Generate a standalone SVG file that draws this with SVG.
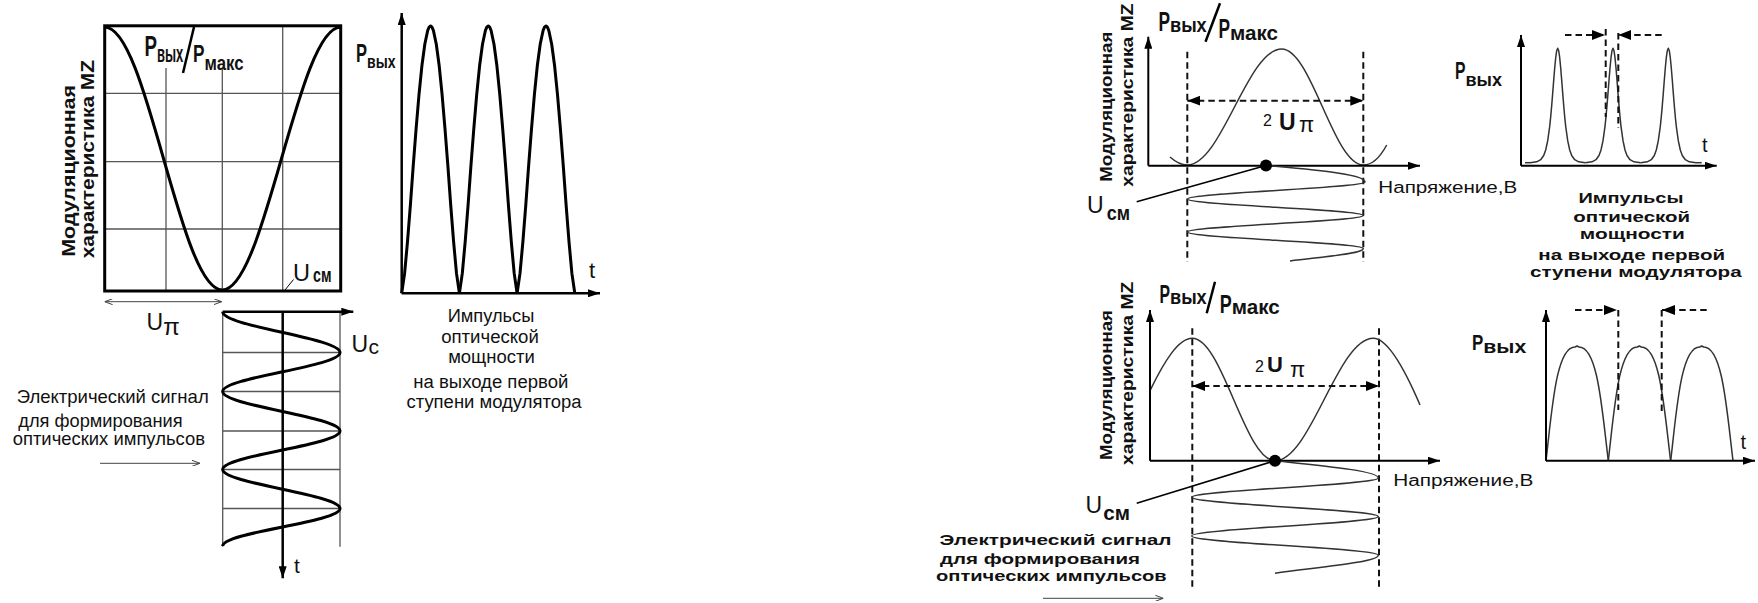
<svg xmlns="http://www.w3.org/2000/svg" width="1758" height="603" viewBox="0 0 1758 603">
<style>
text{font-family:"Liberation Sans",Arial,sans-serif;fill:#111}
.b{font-weight:bold}
.mid{text-anchor:middle}
.ln{fill:none;stroke:#000}
.grid{fill:none;stroke:#555;stroke-width:1.3}
.thin{fill:none;stroke:#333;stroke-width:1.5}
.dash{fill:none;stroke:#111;stroke-width:2;stroke-dasharray:6.5 4}
</style>
<defs>
<marker id="ah" viewBox="0 0 12 8" refX="12" refY="4" markerWidth="12" markerHeight="8" markerUnits="userSpaceOnUse" orient="auto-start-reverse"><path d="M0,0L12,4L0,8z" fill="#000"/></marker>
<marker id="ahd" viewBox="0 0 13 10" refX="13" refY="5" markerWidth="13" markerHeight="10" markerUnits="userSpaceOnUse" orient="auto-start-reverse"><path d="M0,0L13,5L0,10z" fill="#000"/></marker>
<marker id="ao" viewBox="0 0 8 6" refX="8" refY="3" markerWidth="8" markerHeight="6" markerUnits="userSpaceOnUse" orient="auto-start-reverse"><path d="M0,0L8,3L0,6" fill="none" stroke="#444" stroke-width="1"/></marker>
<path id="arch" d="M0,293.3 L2.9,273.4 5.8,241.7 8.7,204.8 11.5,166.1 14.4,128.9 17.3,94.7 20.2,65.8 23.1,44.2 26,30.5 27.4,27.2 28.9,26 30.3,27.2 31.7,30.5 34.6,44.2 37.5,65.8 40.4,94.7 43.3,128.9 46.2,166.1 49,204.8 51.9,241.7 54.8,273.4 57.7,293.3"/>
<path id="spike" d="M-27.7,162.7 L-21,161.8 -17,159.7 -14,155.5 -12,150 -10,140.7 -8,126.4 -7,116.7 -6,105.5 -5,93.1 -4,80.2 -3,68 -2,57.7 -1,50.7 0,48.3 1,50.7 2,57.7 3,68 4,80.2 5,93.1 6,105.5 7,116.7 8,126.4 10,140.7 12,150 14,155.5 17,159.7 21,161.8 27.7,162.7"/>
<path id="dome" d="M0,460.7 C6,410 10,347 29,347 L31,346 L33,347 C52,347 56,410 62.3,460.7"/>
</defs>

<!-- Panel A: modulation characteristic -->
<g id="panelA-mz">
<line class="grid" x1="104.7" y1="93.3" x2="340.7" y2="93.3"/>
<line class="grid" x1="104.7" y1="161.7" x2="340.7" y2="161.7"/>
<line class="grid" x1="104.7" y1="229" x2="340.7" y2="229"/>
<line class="grid" x1="166" y1="68" x2="166" y2="291"/>
<line class="grid" x1="222.3" y1="68" x2="222.3" y2="291"/>
<line class="grid" x1="282.7" y1="26" x2="282.7" y2="291"/>
<rect x="104.7" y="25.8" width="236" height="265.2" fill="none" stroke="#000" stroke-width="3"/>
<path class="ln" stroke-width="3" d="M104.7,27 C147.7,27 179.3,290 222.3,290 C265.3,290 297.7,27 340.7,27"/>
<text transform="translate(75,256.7) rotate(-90)" class="b" font-size="17.5" textLength="171.7" lengthAdjust="spacingAndGlyphs">Модуляционная</text>
<text transform="translate(93.5,258.3) rotate(-90)" class="b" font-size="17.5" textLength="198.3" lengthAdjust="spacingAndGlyphs">характеристика MZ</text>
<text class="b" font-size="30"><tspan x="144.5" y="56" textLength="12.5" lengthAdjust="spacingAndGlyphs">P</tspan><tspan x="157" y="62" font-size="23" textLength="26.3" lengthAdjust="spacingAndGlyphs">вых</tspan></text>
<line class="ln" stroke-width="2.5" x1="194" y1="27" x2="183" y2="73"/>
<text class="b" font-size="24"><tspan x="193" y="62" textLength="11.5" lengthAdjust="spacingAndGlyphs">P</tspan><tspan x="204.5" y="70" font-size="20" textLength="39" lengthAdjust="spacingAndGlyphs">макс</tspan></text>
<line class="ln" stroke-width="1" x1="285" y1="290" x2="293.5" y2="279.5"/>
<text font-size="24"><tspan x="293" y="280.7" textLength="17" lengthAdjust="spacingAndGlyphs">U</tspan><tspan x="313" y="282" font-size="20" class="b" textLength="18.5" lengthAdjust="spacingAndGlyphs">см</tspan></text>
<line x1="104.7" y1="301.7" x2="221.7" y2="301.7" stroke="#444" stroke-width="1" marker-start="url(#ao)" marker-end="url(#ao)"/>
<text font-size="23"><tspan x="146.5" y="329.5">U</tspan><tspan x="163.2" y="335" font-size="24">π</tspan></text>
</g>

<!-- Panel A: electrical signal -->
<g id="panelA-signal">
<line class="grid" x1="222.7" y1="311.7" x2="222.7" y2="546.7"/>
<line class="grid" x1="340" y1="311.7" x2="340" y2="546.7"/>
<line class="grid" x1="222.7" y1="352.5" x2="340" y2="352.5"/>
<line class="grid" x1="222.7" y1="391.5" x2="340" y2="391.5"/>
<line class="grid" x1="222.7" y1="431" x2="340" y2="431"/>
<line class="grid" x1="222.7" y1="469.5" x2="340" y2="469.5"/>
<line class="grid" x1="222.7" y1="508.5" x2="340" y2="508.5"/>
<path class="ln" stroke-width="3" d="M222.7,311.7 C222.7,326.5 340,338 340,352.5 C340,366.7 222.7,377.3 222.7,391.5 C222.7,405.9 340,416.6 340,431 C340,445 222.7,455.5 222.7,469.5 C222.7,483.5 340,494.5 340,508.5 C340,522.3 222.7,532.2 222.7,546"/>
<line class="ln" stroke-width="2.5" x1="222.7" y1="311.7" x2="353.3" y2="311.7" marker-end="url(#ah)"/>
<line class="ln" stroke-width="2.5" x1="282.7" y1="311.7" x2="282.7" y2="578.3" marker-end="url(#ah)"/>
<text font-size="23"><tspan x="351.5" y="351.7">U</tspan><tspan x="368.5" y="354" font-size="21">c</tspan></text>
<text x="294" y="573.3" font-size="21">t</text>
<text x="16.7" y="403" font-size="18.5" textLength="192" lengthAdjust="spacingAndGlyphs">Электрический сигнал</text>
<text x="18.3" y="426.7" font-size="18.5" textLength="164.3" lengthAdjust="spacingAndGlyphs">для формирования</text>
<text x="12.7" y="444.5" font-size="18.5" textLength="192.3" lengthAdjust="spacingAndGlyphs">оптических импульсов</text>
<line x1="100" y1="463.3" x2="200" y2="463.3" stroke="#444" stroke-width="1" marker-end="url(#ao)"/>
</g>

<!-- Panel A: output pulses -->
<g id="panelA-pulses">
<g class="ln" stroke-width="3" stroke-linejoin="round">
<use href="#arch" x="401.7"/>
<use href="#arch" x="459.4"/>
<use href="#arch" x="517.1"/>
</g>
<line class="ln" stroke-width="2.5" x1="401.7" y1="293.3" x2="401.7" y2="13" marker-end="url(#ah)"/>
<line class="ln" stroke-width="2.5" x1="401.7" y1="293.3" x2="600" y2="293.3" marker-end="url(#ah)"/>
<text class="b" font-size="25"><tspan x="356" y="61.7" textLength="11" lengthAdjust="spacingAndGlyphs">P</tspan><tspan x="367" y="68.3" font-size="19" textLength="28.5" lengthAdjust="spacingAndGlyphs">вых</tspan></text>
<text x="589" y="278" font-size="22">t</text>
<text class="mid" x="491" y="321.7" font-size="18" textLength="86.7" lengthAdjust="spacingAndGlyphs">Импульсы</text>
<text class="mid" x="490" y="343.3" font-size="18" textLength="97.7" lengthAdjust="spacingAndGlyphs">оптической</text>
<text class="mid" x="491.5" y="363.3" font-size="18" textLength="86.7" lengthAdjust="spacingAndGlyphs">мощности</text>
<text class="mid" x="490.8" y="388.3" font-size="18" textLength="155" lengthAdjust="spacingAndGlyphs">на выходе первой</text>
<text class="mid" x="494" y="408.3" font-size="18" textLength="175" lengthAdjust="spacingAndGlyphs">ступени модулятора</text>
</g>

<!-- Panel B top: characteristic -->
<g id="panelB-top-mz">
<line class="dash" x1="1187.3" y1="51.7" x2="1187.3" y2="262"/>
<line class="dash" x1="1363.3" y1="51.7" x2="1363.3" y2="262"/>
<path class="thin" d="M1170,157 Q1179,165 1187.3,165 C1221.6,165 1247.4,49 1281.7,49 C1311.4,49 1333.6,165 1363.3,165 Q1376,165 1386.7,145"/>
<line class="ln" stroke-width="2" x1="1148.3" y1="165.7" x2="1148.3" y2="36.7" marker-end="url(#ah)"/>
<line class="ln" stroke-width="2" x1="1148.3" y1="165.7" x2="1420" y2="165.7" marker-end="url(#ah)"/>
<line class="dash" stroke-width="2.5" x1="1187.3" y1="100.7" x2="1363.3" y2="100.7" marker-start="url(#ahd)" marker-end="url(#ahd)"/>
<text font-size="16"><tspan x="1263" y="125.5">2</tspan><tspan x="1279" y="130" font-size="23" class="b">U</tspan><tspan x="1299" y="131.5" font-size="22">π</tspan></text>
<path class="thin" stroke="#111" d="M1266,165.5 C1315,170 1365,174 1365,182 C1365,188 1187.3,193 1187.3,199 C1187.3,205 1363.3,209.5 1363.3,215.5 C1363.3,221.5 1187.3,226 1187.3,232 C1187.3,238 1363.3,242.5 1363.3,248.5 C1363.3,254 1320,257 1290,261"/>
<line class="ln" stroke-width="1.5" x1="1136.7" y1="201.7" x2="1266" y2="165.5"/>
<circle cx="1266" cy="165.5" r="6" fill="#000"/>
<text transform="translate(1111.7,181.7) rotate(-90)" class="b" font-size="16" textLength="150" lengthAdjust="spacingAndGlyphs">Модуляционная</text>
<text transform="translate(1133.3,186.7) rotate(-90)" class="b" font-size="16" textLength="183.3" lengthAdjust="spacingAndGlyphs">характеристика MZ</text>
<text class="b" font-size="27"><tspan x="1158.5" y="30.7" textLength="11.5" lengthAdjust="spacingAndGlyphs">P</tspan><tspan x="1170" y="31.7" font-size="21" textLength="36.7" lengthAdjust="spacingAndGlyphs">вых</tspan></text>
<line class="ln" stroke-width="2.5" x1="1220" y1="3.3" x2="1205.5" y2="41.7"/>
<text class="b" font-size="27"><tspan x="1218.5" y="38.3" textLength="11.5" lengthAdjust="spacingAndGlyphs">P</tspan><tspan x="1230" y="40" font-size="20" textLength="48" lengthAdjust="spacingAndGlyphs">макс</tspan></text>
<text font-size="23"><tspan x="1087" y="213.3">U</tspan><tspan x="1106.7" y="220" font-size="20" class="b" textLength="23.3" lengthAdjust="spacingAndGlyphs">см</tspan></text>
<text x="1378.3" y="193" font-size="16" textLength="139" lengthAdjust="spacingAndGlyphs">Напряжение,В</text>
</g>

<!-- Panel B top: output pulses -->
<g id="panelB-top-pulses">
<g class="thin" stroke="#444" stroke-linejoin="round">
<line x1="1525" y1="162.7" x2="1530" y2="162.7"/>
<use href="#spike" x="1557.7"/>
<use href="#spike" x="1613"/>
<use href="#spike" x="1668.3"/>
<line x1="1696" y1="162.7" x2="1701.7" y2="162.7"/>
</g>
<line class="ln" stroke-width="2" x1="1521" y1="165.7" x2="1521" y2="35" marker-end="url(#ah)"/>
<line class="ln" stroke-width="2" x1="1521" y1="165.7" x2="1716.7" y2="165.7" marker-end="url(#ah)"/>
<line class="dash" x1="1565" y1="35" x2="1605" y2="35" marker-end="url(#ahd)"/>
<line class="dash" x1="1661.7" y1="35" x2="1618.3" y2="35" marker-end="url(#ahd)"/>
<line class="dash" x1="1605.7" y1="29" x2="1605.7" y2="117"/>
<line class="dash" x1="1618.3" y1="33" x2="1618.3" y2="128"/>
<text class="b" font-size="24"><tspan x="1455" y="79" textLength="10.5" lengthAdjust="spacingAndGlyphs">P</tspan><tspan x="1465.5" y="85.5" font-size="19" textLength="36.5" lengthAdjust="spacingAndGlyphs">вых</tspan></text>
<text x="1702" y="151.7" font-size="20">t</text>
<text class="mid b" x="1631" y="203.3" font-size="15.5" textLength="105" lengthAdjust="spacingAndGlyphs">Импульсы</text>
<text class="mid b" x="1631.7" y="221.7" font-size="15.5" textLength="116.7" lengthAdjust="spacingAndGlyphs">оптической</text>
<text class="mid b" x="1632.3" y="239.3" font-size="15.5" textLength="105" lengthAdjust="spacingAndGlyphs">мощности</text>
<text class="mid b" x="1631.7" y="260" font-size="15.5" textLength="186.7" lengthAdjust="spacingAndGlyphs">на выходе первой</text>
<text class="mid b" x="1635.8" y="276.7" font-size="15.5" textLength="211.7" lengthAdjust="spacingAndGlyphs">ступени модулятора</text>
</g>

<!-- Panel B bottom: characteristic -->
<g id="panelB-bottom-mz">
<line class="dash" x1="1192.3" y1="328.3" x2="1192.3" y2="590"/>
<line class="dash" x1="1379" y1="328.3" x2="1379" y2="590"/>
<path class="thin" d="M1150,390.6 C1164.1,361.8 1178.2,338.3 1192.3,338.3 C1222.3,338.3 1245,460.7 1275,460.7 C1310.7,460.7 1337.6,338.3 1373.3,338.3 C1388,338.3 1405,370 1420,405"/>
<line class="ln" stroke-width="2" x1="1150" y1="460.7" x2="1150" y2="310" marker-end="url(#ah)"/>
<line class="ln" stroke-width="2" x1="1150" y1="460.7" x2="1440" y2="460.7" marker-end="url(#ah)"/>
<line class="dash" stroke-width="2.5" x1="1192.3" y1="386" x2="1379" y2="386" marker-start="url(#ahd)" marker-end="url(#ahd)"/>
<text font-size="16"><tspan x="1255" y="371.7">2</tspan><tspan x="1267" y="371.7" font-size="22" class="b">U</tspan><tspan x="1290" y="376.7" font-size="22">π</tspan></text>
<path class="thin" stroke="#111" d="M1275,460.7 C1325,466 1378.3,471 1378.3,478 C1378.3,485 1191.7,490.3 1191.7,497.3 C1191.7,504.3 1378.3,509.6 1378.3,516.6 C1378.3,523.6 1191.7,528.9 1191.7,535.9 C1191.7,542.9 1378.3,548.2 1378.3,555.2 C1378.3,562 1320,567 1275,573.3"/>
<line class="ln" stroke-width="1.5" x1="1136.7" y1="503.3" x2="1275" y2="460.7"/>
<circle cx="1275" cy="460.7" r="6" fill="#000"/>
<text transform="translate(1111.7,460) rotate(-90)" class="b" font-size="16" textLength="150" lengthAdjust="spacingAndGlyphs">Модуляционная</text>
<text transform="translate(1133.3,465) rotate(-90)" class="b" font-size="16" textLength="183.3" lengthAdjust="spacingAndGlyphs">характеристика MZ</text>
<text class="b" font-size="25"><tspan x="1159.5" y="303.3" textLength="10.5" lengthAdjust="spacingAndGlyphs">P</tspan><tspan x="1170" y="304" font-size="21" textLength="36.7" lengthAdjust="spacingAndGlyphs">вых</tspan></text>
<line class="ln" stroke-width="2.5" x1="1215" y1="281.7" x2="1206.7" y2="313.3"/>
<text class="b" font-size="25"><tspan x="1219.7" y="313.3" textLength="12" lengthAdjust="spacingAndGlyphs">P</tspan><tspan x="1231.7" y="314" font-size="20" textLength="48" lengthAdjust="spacingAndGlyphs">макс</tspan></text>
<text font-size="23"><tspan x="1085.5" y="512.7">U</tspan><tspan x="1103.3" y="520" font-size="20" class="b" textLength="26.7" lengthAdjust="spacingAndGlyphs">см</tspan></text>
<text x="1393.3" y="486" font-size="16" textLength="140" lengthAdjust="spacingAndGlyphs">Напряжение,В</text>
<text x="939.6" y="545" class="b" font-size="15.5" textLength="232" lengthAdjust="spacingAndGlyphs">Электрический сигнал</text>
<text x="940" y="564" class="b" font-size="15.5" textLength="200" lengthAdjust="spacingAndGlyphs">для формирования</text>
<text x="936" y="580.7" class="b" font-size="15.5" textLength="230.7" lengthAdjust="spacingAndGlyphs">оптических импульсов</text>
<line x1="1043" y1="598.3" x2="1163.3" y2="598.3" stroke="#444" stroke-width="1" marker-end="url(#ao)"/>
</g>

<!-- Panel B bottom: output pulses -->
<g id="panelB-bottom-pulses">
<g class="thin" stroke="#333" stroke-linejoin="round">
<use href="#dome" x="1546"/>
<use href="#dome" x="1608.3"/>
<use href="#dome" x="1670.7"/>
</g>
<line class="ln" stroke-width="2" x1="1546" y1="460.7" x2="1546" y2="310" marker-end="url(#ah)"/>
<line class="ln" stroke-width="2" x1="1546" y1="460.7" x2="1755" y2="460.7" marker-end="url(#ah)"/>
<line class="dash" x1="1575" y1="310" x2="1617" y2="310" marker-end="url(#ahd)"/>
<line class="dash" x1="1706.7" y1="310" x2="1662" y2="310" marker-end="url(#ahd)"/>
<line class="dash" x1="1618.3" y1="310" x2="1618.3" y2="410"/>
<line class="dash" x1="1661.7" y1="310" x2="1661.7" y2="411"/>
<text class="b" font-size="22"><tspan x="1472" y="350" textLength="11.3" lengthAdjust="spacingAndGlyphs">P</tspan><tspan x="1483.3" y="352.7" font-size="19" textLength="43" lengthAdjust="spacingAndGlyphs">вых</tspan></text>
<text x="1740.5" y="449.3" font-size="20">t</text>
</g>
</svg>
